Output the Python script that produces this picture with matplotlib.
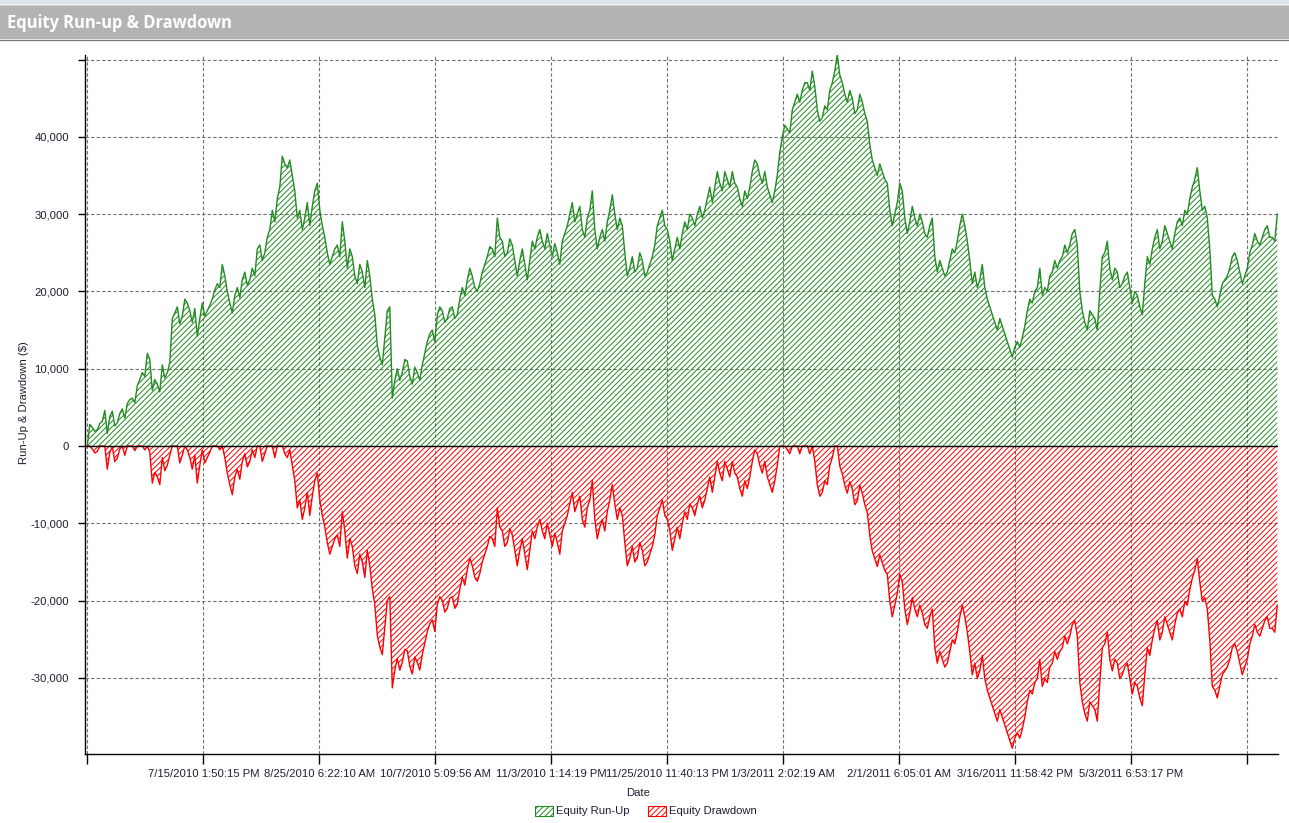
import numpy as np
import matplotlib
matplotlib.use("Agg")
import matplotlib.pyplot as plt
from matplotlib.patches import Rectangle, Patch
from matplotlib.ticker import FuncFormatter, FixedLocator

# ---------------- data (thousands of $) ----------------
runup_k = [
    0.0, 2.8, 2.4, 1.9, 2.1, 2.9, 3.2, 4.6, 1.6, 3.8,
    4.5, 2.6, 3.0, 4.2, 4.8, 3.6, 5.5, 6.0, 6.2, 5.6,
    7.8, 8.6, 9.5, 9.0, 12.0, 11.2, 7.2, 8.6, 8.0, 7.0,
    10.5, 8.8, 9.5, 10.8, 16.5, 17.2, 18.0, 15.8, 16.8, 19.0,
    18.5, 17.5, 16.0, 17.8, 14.2, 16.5, 18.5, 16.8, 17.5, 18.2,
    19.0, 20.2, 21.0, 20.5, 23.5, 22.0, 20.0, 18.5, 17.2, 19.5,
    20.5, 19.2, 21.5, 22.5, 20.8, 21.5, 23.0, 22.0, 25.5, 26.0,
    24.0, 25.0, 27.0, 28.0, 30.5, 29.0, 32.0, 33.5, 37.5, 36.5,
    36.0, 37.0, 35.0, 33.0, 29.5, 30.5, 28.0, 29.5, 31.5, 28.5,
    31.0, 33.0, 34.0, 30.5, 28.5, 27.0, 25.0, 23.5, 24.5, 25.5,
    26.0, 24.5, 29.0, 26.5, 23.0, 25.5, 24.5, 22.0, 21.0, 23.5,
    22.5, 20.5, 24.0, 22.0, 19.0, 17.0, 13.0, 11.5, 10.5, 14.0,
    17.5, 18.0, 6.2, 8.5, 10.0, 8.5, 9.5, 11.2, 11.0, 9.0,
    8.0, 10.2, 9.5, 8.5, 10.5, 12.0, 13.5, 14.5, 15.0, 13.5,
    17.0, 18.0, 17.5, 16.0, 16.5, 17.8, 18.0, 16.5, 17.0, 19.0,
    20.5, 19.5, 21.5, 23.0, 22.0, 20.5, 20.0, 21.0, 22.5, 23.5,
    24.5, 25.8, 25.5, 24.5, 29.5, 27.0, 26.5, 24.5, 25.0, 26.8,
    26.0, 24.0, 22.0, 24.0, 25.5, 23.5, 21.5, 24.0, 26.5, 25.5,
    27.0, 28.0, 26.5, 25.5, 27.5, 26.0, 24.5, 26.2, 25.0, 23.5,
    26.5, 27.5, 28.5, 30.0, 31.5, 29.0, 30.0, 31.0, 28.0, 27.0,
    29.5, 30.5, 33.0, 28.0, 25.5, 27.0, 28.0, 26.5, 29.0, 30.5,
    32.5, 30.0, 28.0, 29.5, 28.5, 25.0, 22.0, 23.0, 24.5, 22.5,
    23.0, 25.0, 24.0, 22.0, 22.5, 23.5, 24.5, 26.0, 28.5, 29.5,
    30.5, 28.5, 28.0, 26.5, 24.0, 25.5, 27.0, 25.5, 27.5, 29.0,
    28.0, 30.0, 29.5, 28.5, 30.0, 31.0, 29.5, 30.5, 32.0, 33.5,
    31.5, 33.5, 35.5, 34.0, 33.0, 35.5, 34.5, 33.5, 35.5, 34.0,
    33.5, 32.0, 31.0, 33.0, 32.0, 33.5, 35.5, 37.0, 36.5, 35.0,
    34.0, 35.5, 33.5, 32.5, 31.5, 33.0, 35.0, 38.0, 40.0, 41.5,
    41.0, 40.5, 43.5, 44.5, 45.5, 44.5, 46.0, 47.0, 47.0, 46.0,
    48.5, 46.5, 43.5, 42.0, 42.5, 44.0, 43.5, 46.0, 47.0, 48.5,
    50.6, 48.0, 47.0, 45.5, 44.5, 46.0, 45.0, 43.0, 43.5, 45.5,
    44.5, 43.0, 42.0, 39.0, 37.0, 36.0, 35.0, 36.5, 35.5, 34.5,
    34.0, 30.5, 28.5, 30.0, 31.5, 34.0, 33.0, 29.5, 27.5, 29.0,
    31.0, 29.5, 28.5, 30.0, 29.0, 27.5, 27.0, 28.5, 29.5, 24.5,
    22.5, 24.0, 23.0, 22.0, 22.5, 24.0, 25.5, 25.0, 26.5, 28.5,
    30.0, 28.5, 26.5, 24.0, 21.0, 22.5, 20.5, 21.5, 23.5, 20.5,
    19.0, 18.0, 17.0, 16.0, 15.0, 16.5, 15.5, 14.5, 13.5, 12.5,
    11.5, 12.8, 13.5, 12.8, 14.0, 15.5, 17.5, 19.0, 18.5, 20.0,
    20.5, 23.0, 19.5, 20.5, 20.0, 22.0, 22.5, 24.0, 23.0, 24.0,
    24.5, 26.0, 25.0, 26.0, 27.5, 28.0, 26.0, 20.0, 17.5, 16.0,
    15.0, 17.5, 17.0, 16.5, 15.0, 20.0, 24.5, 25.0, 26.5, 23.0,
    21.5, 23.0, 22.5, 20.5, 21.0, 22.0, 22.5, 20.5, 18.5, 20.0,
    19.5, 18.0, 17.0, 21.0, 24.5, 23.5, 25.5, 27.0, 28.0, 25.5,
    26.5, 28.5, 27.5, 26.5, 25.5, 27.5, 29.0, 29.5, 28.5, 30.5,
    30.0, 32.0, 33.5, 34.5, 36.0, 33.0, 30.5, 31.0, 29.5, 25.5,
    19.5, 19.0, 18.0, 19.5, 21.0, 21.5, 22.0, 23.0, 24.5, 25.0,
    24.0, 22.5, 21.0, 22.0, 23.0, 25.0, 26.0, 27.5, 26.5, 26.0,
    27.0, 28.0, 28.5, 27.0, 27.0, 26.5, 30.0,
]

drawdown_k = [
    0.0, 0.0, -0.4, -0.9, -0.7, 0.0, 0.0, 0.0, -3.0, -0.8,
    -0.1, -2.0, -1.6, -0.4, 0.0, -1.2, 0.0, 0.0, 0.0, -0.6,
    0.0, 0.0, 0.0, -0.5, 0.0, -0.8, -4.8, -3.4, -4.0, -5.0,
    -1.5, -3.2, -2.5, -1.2, 0.0, 0.0, 0.0, -2.2, -1.2, 0.0,
    -0.5, -1.5, -3.0, -1.2, -4.8, -2.5, -0.5, -2.2, -1.5, -0.8,
    0.0, 0.0, 0.0, -0.5, 0.0, -1.5, -3.5, -5.0, -6.3, -4.0,
    -3.0, -4.3, -2.0, -1.0, -2.7, -2.0, -0.5, -1.5, 0.0, 0.0,
    -2.0, -1.0, 0.0, 0.0, 0.0, -1.5, 0.0, 0.0, 0.0, -1.0,
    -1.5, -0.5, -2.5, -4.5, -8.0, -7.0, -9.5, -8.0, -6.0, -9.0,
    -6.5, -4.5, -3.5, -7.0, -9.0, -10.5, -12.5, -14.0, -13.0, -12.0,
    -11.5, -13.0, -8.5, -11.0, -14.5, -12.0, -13.0, -15.5, -16.5, -14.0,
    -15.0, -17.0, -13.5, -15.5, -18.5, -20.5, -24.5, -26.0, -27.0, -23.5,
    -20.0, -19.5, -31.3, -29.0, -27.5, -29.0, -28.0, -26.3, -26.5, -28.5,
    -29.5, -27.3, -28.0, -29.0, -27.0, -25.5, -24.0, -23.0, -22.5, -24.0,
    -20.5, -19.5, -20.0, -21.5, -21.0, -19.7, -19.5, -21.0, -20.5, -18.5,
    -17.0, -18.0, -16.0, -14.5, -15.5, -17.0, -17.5, -16.5, -15.0, -14.0,
    -13.0, -11.7, -12.0, -13.0, -8.0, -10.5, -11.0, -13.0, -12.5, -10.7,
    -11.5, -13.5, -15.5, -13.5, -12.0, -14.0, -16.0, -13.5, -11.0, -12.0,
    -10.5, -9.5, -11.0, -12.0, -10.0, -11.5, -13.0, -11.3, -12.5, -14.0,
    -11.0, -10.0, -9.0, -7.5, -6.0, -8.5, -7.5, -6.5, -9.5, -10.5,
    -8.0, -7.0, -4.5, -9.5, -12.0, -10.5, -9.5, -11.0, -8.5, -7.0,
    -5.0, -7.5, -9.5, -8.0, -9.0, -12.5, -15.5, -14.5, -13.0, -15.0,
    -14.5, -12.5, -13.5, -15.5, -15.0, -14.0, -13.0, -11.5, -9.0, -8.0,
    -7.0, -9.0, -9.5, -11.0, -13.5, -12.0, -10.5, -12.0, -10.0, -8.5,
    -9.5, -7.5, -8.0, -9.0, -7.5, -6.5, -8.0, -7.0, -5.5, -4.0,
    -6.0, -4.0, -2.0, -3.5, -4.5, -2.0, -3.0, -4.0, -2.0, -3.5,
    -4.0, -5.5, -6.5, -4.5, -5.5, -4.0, -2.0, -0.5, -1.0, -2.5,
    -3.5, -2.0, -4.0, -5.0, -6.0, -4.5, -2.5, 0.0, 0.0, 0.0,
    -0.5, -1.0, 0.0, 0.0, 0.0, -1.0, 0.0, 0.0, 0.0, -1.0,
    0.0, -2.0, -5.0, -6.5, -6.0, -4.5, -5.0, -2.5, -1.5, 0.0,
    0.0, -2.6, -3.6, -5.1, -6.1, -4.6, -5.6, -7.6, -7.1, -5.1,
    -6.1, -7.6, -8.6, -11.6, -13.6, -14.6, -15.6, -14.1, -15.1, -16.1,
    -16.6, -20.1, -22.1, -20.6, -19.1, -16.6, -17.6, -21.1, -23.1, -21.6,
    -19.6, -21.1, -22.1, -20.6, -21.6, -23.1, -23.6, -22.1, -21.1, -26.1,
    -28.1, -26.6, -27.6, -28.6, -28.1, -26.6, -25.1, -25.6, -24.1, -22.1,
    -20.6, -22.1, -24.1, -26.6, -29.6, -28.1, -30.1, -29.1, -27.1, -30.1,
    -31.6, -32.6, -33.6, -34.6, -35.6, -34.1, -35.1, -36.1, -37.1, -38.1,
    -39.1, -37.8, -37.1, -37.8, -36.6, -35.1, -33.1, -31.6, -32.1, -30.6,
    -30.1, -27.6, -31.1, -30.1, -30.6, -28.6, -28.1, -26.6, -27.6, -26.6,
    -26.1, -24.6, -25.6, -24.6, -23.1, -22.6, -24.6, -30.6, -33.1, -34.6,
    -35.6, -33.1, -33.6, -34.1, -35.6, -30.6, -26.1, -25.6, -24.1, -27.6,
    -29.1, -27.6, -28.1, -30.1, -29.6, -28.6, -28.1, -30.1, -32.1, -30.6,
    -31.1, -32.6, -33.6, -29.6, -26.1, -27.1, -25.1, -23.6, -22.6, -25.1,
    -24.1, -22.1, -23.1, -24.1, -25.1, -23.1, -21.6, -21.1, -22.1, -20.1,
    -20.6, -18.6, -17.1, -16.1, -14.6, -17.6, -20.1, -19.6, -21.1, -25.1,
    -31.1, -31.6, -32.6, -31.1, -29.6, -29.1, -28.6, -27.6, -26.1, -25.6,
    -26.6, -28.1, -29.6, -28.6, -27.6, -25.6, -24.6, -23.1, -24.1, -24.6,
    -23.6, -22.6, -22.1, -23.6, -23.6, -24.1, -20.6,
]

date_labels = ["", "7/15/2010 1:50:15 PM", "8/25/2010 6:22:10 AM",
               "10/7/2010 5:09:56 AM", "11/3/2010 1:14:19 PM",
               "11/25/2010 11:40:13 PM", "1/3/2011 2:02:19 AM",
               "2/1/2011 6:05:01 AM", "3/16/2011 11:58:42 PM",
               "5/3/2011 6:53:17 PM", ""]
y_ticks = [-30000, -20000, -10000, 0, 10000, 20000, 30000, 40000, 50000]
series_names = ["Equity Run-Up", "Equity Drawdown"]

runup = np.array(runup_k) * 1000.0
drawdown = np.array(drawdown_k) * 1000.0
idx = np.arange(len(runup))
TICK_STEP = 46.4          # samples between date ticks

GREEN = "#228B22"
RED = "#FF0000"
TXT = "#1e1e32"
HATCH = "//////"

plt.rcParams["hatch.linewidth"] = 0.7
plt.rcParams["font.family"] = ["Liberation Sans", "DejaVu Sans"]

W, H = 1289, 823
fig = plt.figure(figsize=(W / 100, H / 100), dpi=100)
fig.patch.set_facecolor("white")

# title bar
fig.patches.append(Rectangle((0, 1 - 4 / H), 1, 4 / H, transform=fig.transFigure,
                             facecolor="#dfe3ea", edgecolor="none", zorder=0))
fig.patches.append(Rectangle((0, 1 - 39 / H), 1, 34 / H, transform=fig.transFigure,
                             facecolor="#b3b3b3", edgecolor="none", zorder=0))
fig.lines.append(plt.Line2D([0, 1], [1 - 39.5 / H, 1 - 39.5 / H], transform=fig.transFigure,
                            color="#7a7a7a", lw=1.0))
fig.lines.append(plt.Line2D([0, 1], [1 - 5 / H, 1 - 5 / H], transform=fig.transFigure,
                            color="#c9c9c9", lw=1.0))
fig.text(7 / W, 1 - 22.5 / H, "Equity Run-up & Drawdown", color="white",
         fontsize=11.9, fontweight="bold", va="center", ha="left",
         family=["Open Sans", "DejaVu Sans"])

ax = fig.add_axes([84.5 / W, 1 - 754 / H, (1277.5 - 84.5) / W, (754 - 54.5) / H])
ax.set_facecolor("white")

ax.fill_between(idx, 0, runup, facecolor="none", edgecolor=GREEN, hatch=HATCH,
                linewidth=0, zorder=2)
ax.fill_between(idx, 0, drawdown, facecolor="none", edgecolor=RED, hatch=HATCH,
                linewidth=0, zorder=2)
ax.plot(idx, runup, color=GREEN, lw=1.0, zorder=3)
ax.plot(idx, drawdown, color=RED, lw=1.0, zorder=3)
ax.axhline(0, color="black", lw=1.0, zorder=4)

ax.set_xlim(-1.12, len(runup) - 1 + 0.08)
ax.set_ylim(-39850, 50650)

xt = np.arange(len(date_labels)) * TICK_STEP
ax.xaxis.set_major_locator(FixedLocator(xt))
ax.set_xticklabels(date_labels)
ax.yaxis.set_major_locator(FixedLocator(y_ticks))
ax.yaxis.set_major_formatter(FuncFormatter(
    lambda v, p: "" if v >= 50000 else ("0" if v == 0 else f"{int(v):,}")))

ax.grid(True, color="#707070", linestyle=(0, (3, 2)), linewidth=0.8, zorder=1)
for s in ["top", "right"]:
    ax.spines[s].set_visible(False)
for s in ["left", "bottom"]:
    ax.spines[s].set_color("black")
    ax.spines[s].set_linewidth(1.0)
ax.tick_params(axis="x", length=7, width=1, colors="black", labelcolor=TXT,
               labelsize=8.1, pad=4)
ax.tick_params(axis="y", length=5, width=1, colors="black", labelcolor=TXT,
               labelsize=8.1, pad=6)

fig.text(638 / W, 1 - 793 / H, "Date", ha="center", va="center", fontsize=8.1, color=TXT)
fig.text(24 / W, 1 - 403 / H, "Run-Up & Drawdown ($)", ha="center", va="center",
         rotation=90, fontsize=8.1, color=TXT)

handles = [Patch(facecolor="none", edgecolor=GREEN, hatch=HATCH, lw=0.8),
           Patch(facecolor="none", edgecolor=RED, hatch=HATCH, lw=0.8)]
fig.legend(handles, series_names, loc="center", bbox_to_anchor=(646 / W, 1 - 811 / H),
           ncol=2, frameon=False, fontsize=8.1, handlelength=1.6, handleheight=1.0,
           handletextpad=0.3, columnspacing=1.6, labelcolor=TXT)

fig.savefig("out.png", dpi=100)
